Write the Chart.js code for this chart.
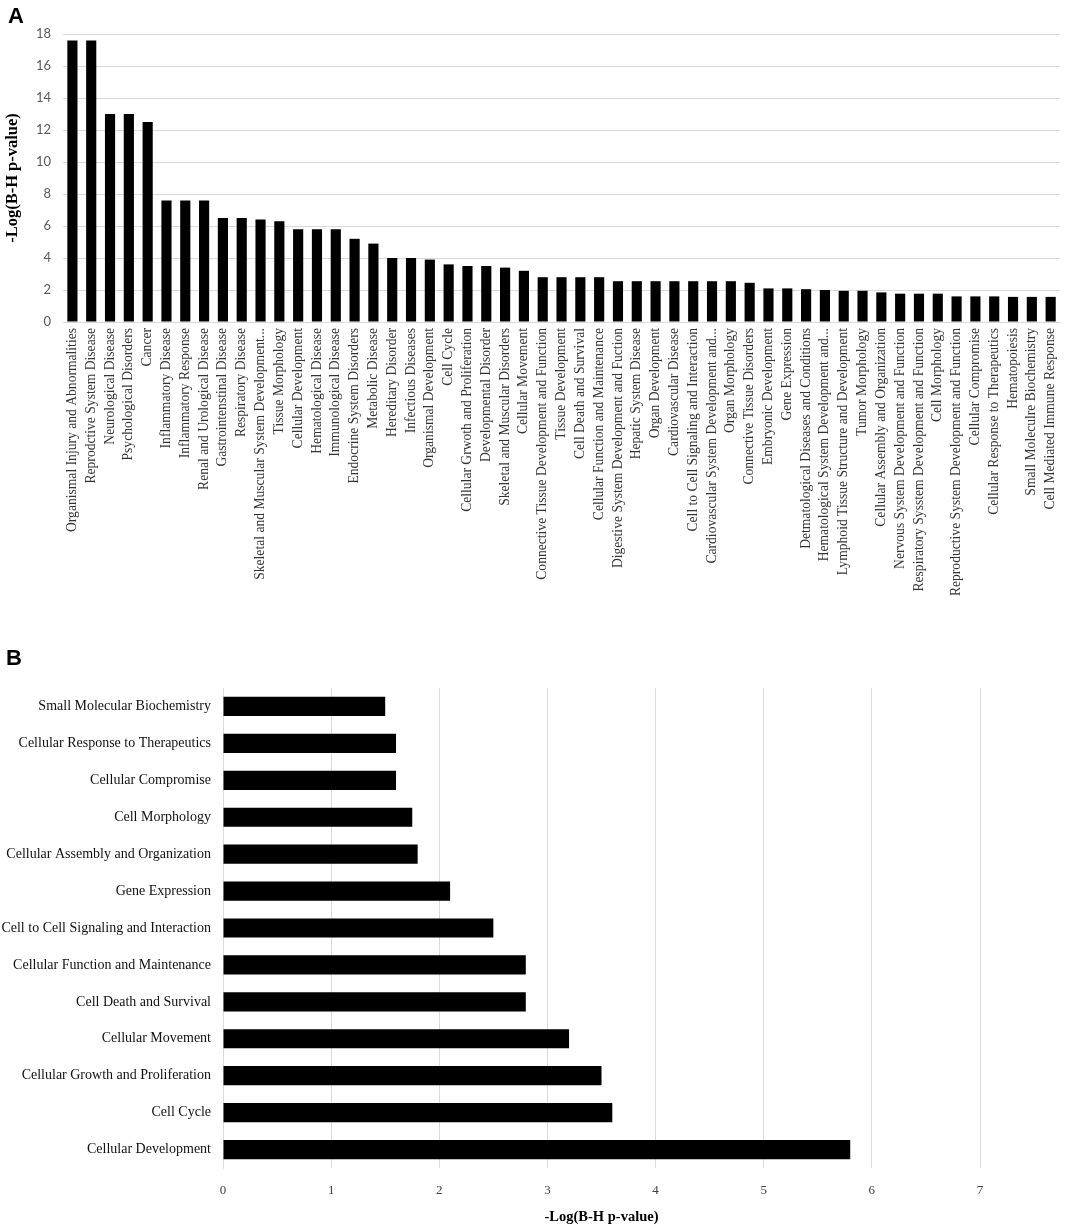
<!DOCTYPE html>
<html>
<head>
<meta charset="utf-8">
<script src="https://cdn.jsdelivr.net/npm/chart.js@4/dist/chart.umd.min.js"></script>
<style>
    body { margin: 0; background: #fff; width: 1065px; height: 1230px; position: relative; overflow: hidden; }
    canvas { position: absolute; left: 0; }
    #chartA { top: 0; }
    #chartB { top: 640px; }
    .panel { position: absolute; font-family: 'Liberation Sans', Arial, sans-serif; font-weight: bold; font-size: 22px; color: #000; }
</style>
</head>
<body>
<canvas id="chartA" width="1065" height="620"></canvas>
<canvas id="chartB" width="1065" height="590"></canvas>
<div class="panel" style="left:8px; top:3px;">A</div>
<div class="panel" style="left:6px; top:645px;">B</div>
<script>
// Panel A: all categories
const categoriesA = [
    'Organismal Injury and Abnormalities', 'Reprodctive System Disease', 'Neurological Disease',
    'Psychological Disorders', 'Cancer', 'Inflammatory Disease', 'Inflammatory Response',
    'Renal and Urological Disease', 'Gastrointenstinal Disease', 'Respiratory Disease',
    'Skeletal and Muscular System Development...', 'Tissue Morphology', 'Cellular Development',
    'Hematological Disease', 'Immunological Disease', 'Endocrine System Disorders',
    'Metabolic Disease', 'Hereditary Disorder', 'Infectious Diseases', 'Organismal Development',
    'Cell Cycle', 'Cellular Grwoth and Proliferation', 'Developmental Disorder',
    'Skeletal and Muscular Disorders', 'Cellular Movement', 'Connective Tissue Development and Function',
    'Tissue Development', 'Cell Death and Survival', 'Cellular Function and Maintenance',
    'Digestive System Development and Fuction', 'Hepatic System Disease', 'Organ Development',
    'Cardiovascular Disease', 'Cell to Cell Signaling and Interaction',
    'Cardiovascular System Development and...', 'Organ Morphology', 'Connective Tissue Disorders',
    'Embryonic Development', 'Gene Expression', 'Detmatological Diseases and Conditions',
    'Hematological System Development and...', 'Lymphoid Tissue Structure and Development',
    'Tumor Morphology', 'Cellular Assembly and Organization', 'Nervous System Development and Function',
    'Respiratory Sysstem Development and Function', 'Cell Morphology',
    'Reproductive System Development and Function', 'Cellular Compromise',
    'Cellular Response to Therapeutics', 'Hematopoiesis', 'Small Moleculre Biochemistry',
    'Cell Mediated Immune Response'
];
const valuesA = [
    17.6, 17.6, 13.0, 13.0, 12.5, 7.6, 7.6, 7.6, 6.5, 6.5,
    6.4, 6.3, 5.8, 5.8, 5.8, 5.2, 4.9, 4.0, 4.0, 3.9,
    3.6, 3.5, 3.5, 3.4, 3.2, 2.8, 2.8, 2.8, 2.8, 2.55,
    2.55, 2.55, 2.55, 2.55, 2.55, 2.55, 2.45, 2.1, 2.1, 2.05,
    2.0, 1.95, 1.95, 1.85, 1.77, 1.77, 1.77, 1.6, 1.6, 1.6,
    1.57, 1.57, 1.57
];
const ticksA = [0, 2, 4, 6, 8, 10, 12, 14, 16, 18];

// Panel B: cellular functions (top to bottom)
const categoriesB = [
    'Small Molecular Biochemistry', 'Cellular Response to Therapeutics', 'Cellular Compromise',
    'Cell Morphology', 'Cellular Assembly and Organization', 'Gene Expression',
    'Cell to Cell Signaling and Interaction', 'Cellular Function and Maintenance',
    'Cell Death and Survival', 'Cellular Movement', 'Cellular Growth and Proliferation',
    'Cell Cycle', 'Cellular Development'
];
const valuesB = [1.5, 1.6, 1.6, 1.75, 1.8, 2.1, 2.5, 2.8, 2.8, 3.2, 3.5, 3.6, 5.8];
const ticksB = [0, 1, 2, 3, 4, 5, 6, 7];

const axisTitle = '-Log(B-H p-value)';
const gridColor = '#d9d9d9';

new Chart(document.getElementById('chartA'), {
    type: 'bar',
    data: {
        labels: categoriesA,
        datasets: [{
            data: valuesA,
            backgroundColor: '#000',
            barPercentage: 0.54,
            categoryPercentage: 1.0
        }]
    },
    options: {
        responsive: false,
        animation: false,
        layout: { padding: { top: 34, right: 3, left: 0, bottom: 0 } },
        plugins: { legend: { display: false }, tooltip: { enabled: false } },
        scales: {
            x: {
                grid: { display: false },
                border: { color: gridColor },
                ticks: {
                    autoSkip: false,
                    minRotation: 90,
                    maxRotation: 90,
                    padding: -2,
                    color: '#333',
                    font: { family: 'Liberation Serif', size: 13.6 }
                },
                afterFit: (scale) => { scale.height = 298; }
            },
            y: {
                min: 0,
                max: 18,
                afterBuildTicks: (scale) => { scale.ticks = ticksA.map(v => ({ value: v })); },
                grid: { color: gridColor, drawTicks: false },
                border: { display: false },
                ticks: {
                    padding: 12,
                    color: '#595959',
                    font: { family: 'Lato', size: 13 }
                },
                title: {
                    display: true,
                    text: axisTitle,
                    color: '#000',
                    font: { family: 'Liberation Serif', size: 16.5, weight: 'bold' },
                    padding: { top: 3, bottom: 4 }
                },
                afterFit: (scale) => { scale.width = 63; }
            }
        }
    }
});

new Chart(document.getElementById('chartB'), {
    type: 'bar',
    data: {
        labels: categoriesB,
        datasets: [{
            data: valuesB,
            backgroundColor: '#000',
            barPercentage: 0.52,
            categoryPercentage: 1.0
        }]
    },
    options: {
        indexAxis: 'y',
        responsive: false,
        animation: false,
        layout: { padding: { top: 48, right: 85, left: 0, bottom: 0 } },
        plugins: { legend: { display: false }, tooltip: { enabled: false } },
        scales: {
            x: {
                min: 0,
                max: 7,
                afterBuildTicks: (scale) => { scale.ticks = ticksB.map(v => ({ value: v })); },
                grid: { color: gridColor, drawTicks: false },
                border: { display: false },
                ticks: {
                    padding: 15,
                    color: '#404040',
                    font: { family: 'Liberation Serif', size: 13 }
                },
                title: {
                    display: true,
                    text: axisTitle,
                    color: '#000',
                    font: { family: 'Liberation Serif', size: 14.5, weight: 'bold' },
                    padding: { top: 4, bottom: 4 }
                },
                afterFit: (scale) => { scale.height = 62; }
            },
            y: {
                grid: { display: false },
                border: { color: gridColor },
                ticks: {
                    padding: 4,
                    color: '#111',
                    font: { family: 'Liberation Serif', size: 14 }
                },
                afterFit: (scale) => { scale.width = 223; }
            }
        }
    }
});
</script>
</body>
</html>
